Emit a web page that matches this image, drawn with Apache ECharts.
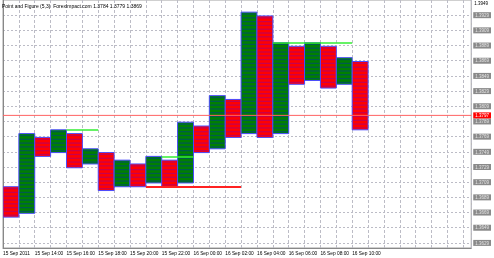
<!DOCTYPE html>
<html><head><meta charset="utf-8">
<script src="https://cdn.jsdelivr.net/npm/echarts@6/dist/echarts.min.js"></script>
<style>html,body{margin:0;padding:0;background:#fff}#c{width:494px;height:258px}</style>
</head><body><div id="c"></div>
<script>
// ---- data ----
const colTypes = ['O','X','O','X','O','X','O','X','O','X','O','X','O','X','O','X','O','X','O','X','O','X','O'];
const colLows  = [1.3663,1.3668,1.3743,1.3748,1.3728,1.3733,1.3698,1.3703,1.3703,1.3708,1.3703,1.3708,1.3748,1.3753,1.3768,1.3773,1.3768,1.3773,1.3838,1.3843,1.3833,1.3838,1.3778];
const colHighs = [1.3703,1.3773,1.3768,1.3778,1.3773,1.3753,1.3748,1.3738,1.3733,1.3743,1.3738,1.3788,1.3783,1.3823,1.3818,1.3933,1.3928,1.3893,1.3888,1.3893,1.3888,1.3873,1.3868];
const boxSize = 0.0005;
const xLabels = ['15 Sep 2011','15 Sep 14:00','15 Sep 16:00','15 Sep 18:00','15 Sep 20:00','15 Sep 22:00','16 Sep 00:00','16 Sep 02:00','16 Sep 04:00','16 Sep 06:00','16 Sep 08:00','16 Sep 10:00'];
const priceTicks = [1.3929,1.3909,1.3889,1.3869,1.3849,1.3829,1.3809,1.3789,1.3769,1.3749,1.3729,1.3709,1.3689,1.3669,1.3649,1.3629];
const topPrice = 1.3949;
const lastPrice = 1.3797;
const sigPrices = [1.3778, 1.3743, 1.3893, 1.3703];
const sigStart  = [4, 10, 17, 9];
const sigEnd    = [6, 12, 22, 15];
const sigKind   = ['up','up','up','down'];
const titleText = 'Point and Figure (5,3)  ForexImpact.com 1.3784 1.3779 1.3869';

// ---- chart ----
const chart = echarts.init(document.getElementById('c'));
const colData = colTypes.map((t, i) => [i, colLows[i], colHighs[i], t === 'X' ? 1 : 0]);
const FONT = 'Liberation Sans';
const XMAX = 29.5;

const sigMark = sigPrices.map((p, k) => [
  {coord: [sigStart[k], p], lineStyle: {color: sigKind[k] === 'up' ? '#33ee33' : '#ff2222', width: sigKind[k] === 'up' ? 1.5 : 2, type: 'solid', opacity: 1}},
  {coord: [sigEnd[k], p]}
]);

const near = (a, b) => Math.abs(a - b) < 1e-7;

chart.setOption({
  animation: false,
  title: {text: titleText, left: 2, top: 4, padding: 0, textStyle: {fontSize: 5, fontWeight: 'normal', color: '#000', fontFamily: FONT}},
  grid: {left: 1, top: 0, width: 472, height: 248, show: true, borderColor: '#a0a0a0', borderWidth: 1},
  xAxis: {
    type: 'value', min: 0, max: XMAX, interval: 1,
    axisLine: {show: true, lineStyle: {color: '#888'}},
    axisTick: {show: false},
    splitLine: {show: true, lineStyle: {color: '#bcbcc6', type: [3, 2], width: 1}},
    axisLabel: {
      fontSize: 4.8, fontFamily: FONT, color: '#000', align: 'left', margin: 3,
      showMinLabel: true, showMaxLabel: false,
      formatter: v => (Number.isInteger(v) && v % 2 === 0 && xLabels[v / 2]) ? xLabels[v / 2] : ''
    }
  },
  yAxis: {
    type: 'value', position: 'right', min: 1.36223, max: topPrice,
    axisLine: {show: true, lineStyle: {color: '#888'}},
    axisTick: {show: false, customValues: priceTicks},
    splitLine: {show: true, lineStyle: {color: '#bcbcc6', type: [2, 2], width: 1}},
    axisLabel: {
      customValues: [topPrice].concat(priceTicks, [lastPrice]), margin: 2, fontFamily: FONT,
      formatter: v => near(v, topPrice) ? '{t|' + v.toFixed(4) + '}' : near(v, lastPrice) ? '{r|' + v.toFixed(4) + '}' : '{b|' + v.toFixed(4) + '}',
      rich: {
        t: {fontSize: 4.5, color: '#000', fontFamily: FONT, padding: [8, 0, 0, 1]},
        b: {fontSize: 4.5, color: '#e4e4e4', fontFamily: FONT, backgroundColor: '#8a8a8a', padding: [1, 2, 0, 2]},
        r: {fontSize: 4.5, color: '#ffffff', fontFamily: FONT, backgroundColor: '#ff0000', padding: [1, 2, 0, 2]}
      }
    }
  },
  series: [{
    type: 'custom',
    data: colData,
    encode: {x: 0, y: [1, 2]},
    clip: true,
    z: 2,
    renderItem: (params, api) => {
      const i = api.value(0), lo = api.value(1), hi = api.value(2), up = api.value(3) === 1;
      const a = api.coord([i, hi]), b = api.coord([i + 1, lo]);
      const fill = up ? '#008000' : '#ff0000';
      const stripe = up ? '#005a50' : '#c8004e';
      const children = [{
        type: 'rect', shape: {x: a[0], y: a[1], width: b[0] - a[0], height: b[1] - a[1]},
        style: {fill: fill, stroke: '#4a4aff', lineWidth: 1}
      }];
      const n = Math.round((hi - lo) / boxSize);
      for (let k = 0; k < n; k++) {
        const y = api.coord([i, lo + (k + 0.5) * boxSize])[1];
        children.push({type: 'line', shape: {x1: a[0] + 1, y1: y, x2: b[0] - 1, y2: y}, style: {stroke: stripe, lineWidth: 1.3}});
      }
      return {type: 'group', children: children};
    },
    markLine: {
      silent: true, symbol: 'none', animation: false,
      label: {show: false},
      lineStyle: {color: '#33ee33', width: 1.5, type: 'solid', opacity: 1},
      data: sigMark
    }
  }, {
    type: 'line',
    data: [[0, lastPrice], [XMAX, lastPrice]],
    z: 3,
    showSymbol: false,
    silent: true,
    lineStyle: {color: '#ff6262', width: 1, type: 'solid'},
    itemStyle: {color: '#ff6262'}
  }]
});
</script></body></html>
